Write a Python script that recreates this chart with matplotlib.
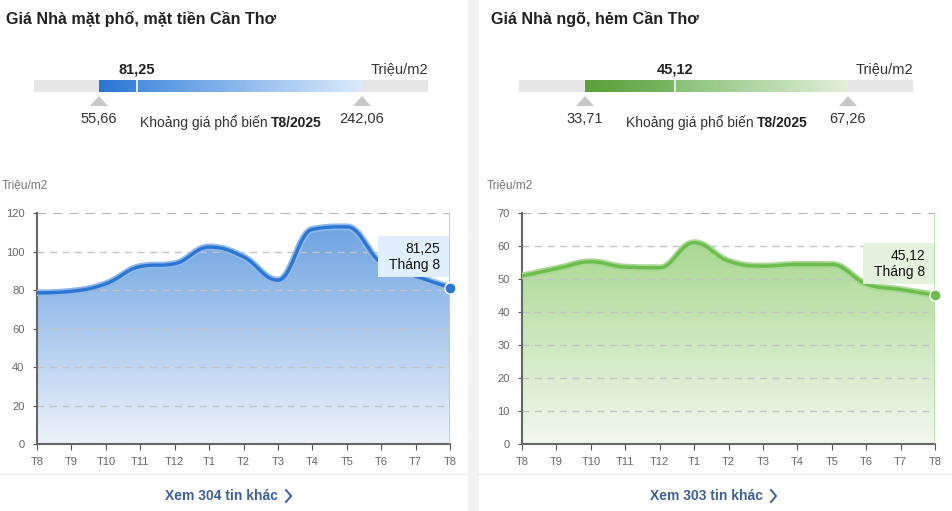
import numpy as np
import matplotlib
matplotlib.use("Agg")
import matplotlib.pyplot as plt
from matplotlib.patches import Rectangle, Polygon
from matplotlib.colors import LinearSegmentedColormap

plt.rcParams['font.family'] = ['Liberation Sans', 'DejaVu Sans']

# ── Data ────────────────────────────────────────────────────────────────────
months = ["T8", "T9", "T10", "T11", "T12", "T1", "T2", "T3", "T4", "T5", "T6", "T7", "T8"]

pho_values = [78.5, 79.3, 83.2, 92.2, 93.6, 102.3, 97.2, 85.1, 111.5, 112.8, 94.0, 87.2, 81.25]
pho_ticks = [0, 20, 40, 60, 80, 100, 120]
pho_range = (55.66, 81.25, 242.06)
pho_labels = ("55,66", "81,25", "242,06")

ngo_values = [50.9, 53.1, 55.2, 53.6, 53.4, 61.0, 55.4, 53.9, 54.4, 54.4, 48.5, 46.8, 45.12]
ngo_ticks = [0, 10, 20, 30, 40, 50, 60, 70]
ngo_range = (33.71, 45.12, 67.26)
ngo_labels = ("33,71", "45,12", "67,26")

W, H = 952, 511


def spline(y, n=30):
    """Highcharts-style spline (smoothing 1.5, clamped control points)."""
    y = np.asarray(y, float)
    N = len(y)
    lc = y.copy()   # left control y
    rc = y.copy()   # right control y
    for i in range(1, N - 1):
        l = (1.5 * y[i] + y[i-1]) / 2.5
        r = (1.5 * y[i] + y[i+1]) / 2.5
        corr = (r - l) / 2 + y[i] - r
        l += corr
        r += corr
        if l > max(y[i-1], y[i]):
            l = max(y[i-1], y[i]); r = 2 * y[i] - l
        elif l < min(y[i-1], y[i]):
            l = min(y[i-1], y[i]); r = 2 * y[i] - l
        if r > max(y[i+1], y[i]):
            r = max(y[i+1], y[i]); l = 2 * y[i] - r
        elif r < min(y[i+1], y[i]):
            r = min(y[i+1], y[i]); l = 2 * y[i] - r
        lc[i], rc[i] = l, r
    xs, ys = [], []
    for i in range(N - 1):
        t = np.linspace(0, 1, n, endpoint=(i == N - 2))
        x1 = i + (0.4 if i > 0 else 0)
        x2 = i + 1 - (0.4 if i + 1 < N - 1 else 0)
        b0, b1, b2, b3 = (1-t)**3, 3*(1-t)**2*t, 3*(1-t)*t**2, t**3
        xs.append(b0*i + b1*x1 + b2*x2 + b3*(i+1))
        ys.append(b0*y[i] + b1*rc[i] + b2*lc[i+1] + b3*y[i+1])
    return np.concatenate(xs), np.concatenate(ys)


fig = plt.figure(figsize=(W/100, H/100), dpi=100)
bg = fig.add_axes([0, 0, 1, 1])
bg.set_xlim(0, W)
bg.set_ylim(H, 0)
bg.axis("off")

# divider stripe and bottom separators
bg.add_patch(Rectangle((468, 0), 11, H, color="#f2f2f2", lw=0))
bg.plot([0, 468], [474, 474], color="#ececec", lw=1)
bg.plot([479, W], [474, 474], color="#ececec", lw=1)


def panel(x0, title, values, ticks, rlabels, more, dark, light_bar, line_c,
          halo_c, top_c, bot_c, tip_c, vline_c, bar_start, bar_end, val_x, split_x):
    # title
    bg.text(x0 + 6, 19, title, fontsize=11.6, fontweight="bold", color="#222222",
            va="center", ha="left")
    # range bar
    bx0, bx1 = x0 + 34, x0 + 428
    bg.add_patch(Rectangle((bx0, 80), bx1 - bx0, 12, color="#e6e6e6", lw=0))
    grad = np.linspace(0, 1, 256).reshape(1, -1)
    cmap1 = LinearSegmentedColormap.from_list("a", [dark, light_bar[0]])
    cmap2 = LinearSegmentedColormap.from_list("b", light_bar[1:])
    bg.imshow(grad, cmap=cmap1, extent=[bar_start, val_x - 1, 92, 80], aspect="auto", zorder=2)
    bg.imshow(grad, cmap=cmap2, extent=[val_x + 1, bar_end, 92, 80], aspect="auto", zorder=2)
    bg.set_xlim(0, W)
    bg.set_ylim(H, 0)
    for tx in (bar_start, bar_end):
        bg.add_patch(Polygon([[tx - 9, 106], [tx + 9, 106], [tx, 96]], color="#c8c8c8", lw=0))
    bg.text(bar_start, 119, rlabels[0], fontsize=10.5, color="#333333", ha="center", va="center")
    bg.text(bar_end, 119, rlabels[2], fontsize=10.5, color="#333333", ha="center", va="center")
    bg.text(val_x, 69, rlabels[1], fontsize=10.5, fontweight="bold", color="#222222",
            ha="center", va="center")
    bg.text(bx1, 69, "Triệu/m2", fontsize=10.5, color="#333333", ha="right", va="center")
    bg.text(split_x, 123, "Khoảng giá phổ biến ", fontsize=10, color="#333333",
            ha="right", va="center")
    bg.text(split_x, 123, "T8/2025", fontsize=10, fontweight="bold", color="#222222",
            ha="left", va="center")
    bg.text(x0 + 2, 185, "Triệu/m2", fontsize=8.6, color="#777777", ha="left", va="center")
    bg.text(x0 + 221, 496, more, fontsize=10, fontweight="bold", color="#3d6196",
            ha="center", va="center")
    cx = x0 + 286
    bg.plot([cx, cx + 5, cx], [490, 496, 502], color="#3d6196", lw=1.4,
            solid_joinstyle="miter")

    # chart
    px0, px1, py0, py1 = x0 + 37, x0 + 450, 213, 444
    ax = fig.add_axes([px0/W, (H - py1)/H, (px1 - px0)/W, (py1 - py0)/H])
    ymax = ticks[-1]
    ax.set_xlim(0, len(values) - 1)
    ax.set_ylim(0, ymax)
    xs, ys = spline(values)
    poly = np.column_stack([np.r_[xs, xs[-1], xs[0]], np.r_[ys, 0, 0]])
    patch = Polygon(poly, closed=True, facecolor="none", edgecolor="none")
    ax.add_patch(patch)
    gcm = LinearSegmentedColormap.from_list("g", [bot_c, top_c])
    vg = np.linspace(0, 1, 256).reshape(-1, 1)
    im = ax.imshow(vg, cmap=gcm, extent=[0, len(values) - 1, 0, max(values)],
                   origin="lower", aspect="auto", zorder=1)
    im.set_clip_path(patch)
    ax.set_ylim(0, ymax)
    for t in ticks[1:]:
        ax.axhline(t, color="#aaaaaa" if t == ymax else "#c4c4c4",
                   lw=1.3 if t == ymax else 1.0, ls=(0, (5, 4)), zorder=2)
    ax.axvline(len(values) - 1, color=vline_c, lw=2, zorder=3)
    ax.plot(xs, ys, color=halo_c, lw=5, solid_capstyle="round", zorder=4)
    ax.plot(xs, ys, color=line_c, lw=2.4, solid_capstyle="round", zorder=5)
    ax.plot([len(values) - 1], [values[-1]], "o", ms=8, color=line_c, mec="white",
            mew=1, zorder=6, clip_on=False)
    ax.set_xticks(range(len(values)))
    ax.set_xticklabels(months)
    ax.set_yticks(ticks)
    ax.tick_params(axis="x", length=4, color="#555555", labelsize=8, labelcolor="#666666", pad=5)
    ax.tick_params(axis="y", length=3, color="#555555", labelsize=8, labelcolor="#666666", pad=6)
    for s in ("top", "right"):
        ax.spines[s].set_visible(False)
    for s in ("left", "bottom"):
        ax.spines[s].set_color("#666666")
        ax.spines[s].set_linewidth(1.5)
    ax.set_facecolor("none")

    # tooltip
    tx0, tx1 = x0 + 378, x0 + 449
    ty0 = 236 if ymax == 120 else 243
    bg.add_patch(Rectangle((tx0, ty0), tx1 - tx0, 41, color=tip_c, lw=0, zorder=5))
    bg.text(tx1 - 9, ty0 + 13, rlabels[1], fontsize=10, color="#111111", ha="right",
            va="center", zorder=6)
    bg.text(tx1 - 9, ty0 + 29, "Tháng 8", fontsize=10, color="#111111", ha="right",
            va="center", zorder=6)
    bg.set_zorder(3)
    bg.patch.set_visible(False)
    return ax


panel(0, "Giá Nhà mặt phố, mặt tiền Cần Thơ", pho_values, pho_ticks,
      pho_labels, "Xem 304 tin khác", "#2a76d2", ["#3f86da", "#4c8fe0", "#dcebfd"],
      "#2a76d2", "#8fb8ea", "#6ea3e1", "#edf3fb", "#e1eefd", "#a8c9f0", 99, 362, 137, 271)
panel(485, "Giá Nhà ngõ, hẻm Cần Thơ", ngo_values, ngo_ticks,
      ngo_labels, "Xem 303 tin khác", "#58a036", ["#7ab765", "#88c177", "#e2f0da"],
      "#6dbd4c", "#a8d894", "#a9d890", "#f2f8ee", "#e4f1dc", "#b3dca2", 585, 848, 675, 757)

fig.savefig("out.png", dpi=100)
